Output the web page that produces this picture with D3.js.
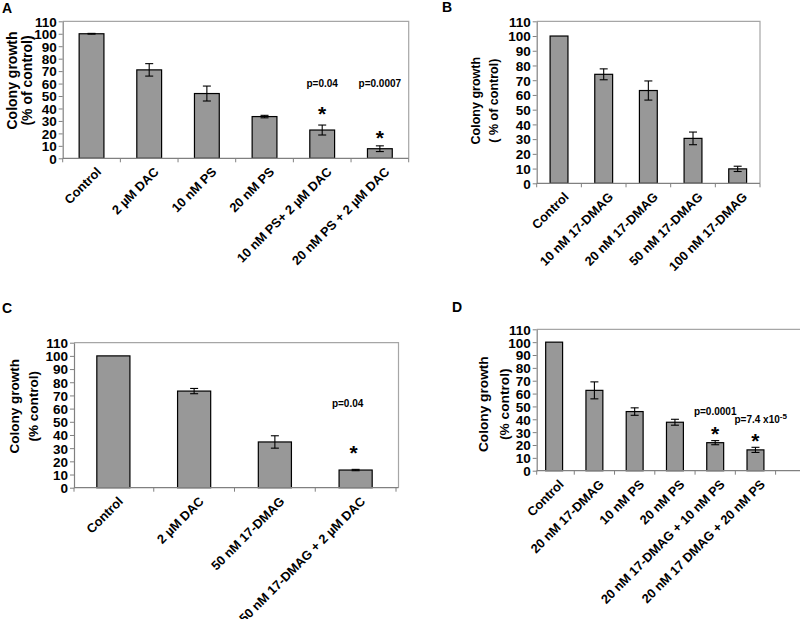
<!DOCTYPE html>
<html><head><meta charset="utf-8">
<script src="https://cdn.jsdelivr.net/npm/d3@7"></script>
<style>
body{margin:0;background:#fff;}
svg text{font-family:"Liberation Sans",Arial,sans-serif;font-weight:bold;fill:#000;}
</style></head>
<body><svg id="c" width="800" height="619"></svg>
<script>
// ---- data ----
const yTicks = [0,10,20,30,40,50,60,70,80,90,100,110];

const catsA = ["Control","2 µM DAC","10 nM PS","20 nM PS","10 nM PS+ 2 µM DAC","20 nM PS + 2 µM DAC"];
const valsA = [100,71,52,33.5,22.7,7.7];
const errA  = [0.3,5,6,1,4,2.3];

const catsB = ["Control","10 nM 17-DMAG","20 nM 17-DMAG","50 nM 17-DMAG","100 nM 17-DMAG"];
const valsB = [100,74,63,30.5,9.8];
const errB  = [0,3.7,6.5,4.3,1.8];

const catsC = ["Control","2 µM DAC","50 nM 17-DMAG","50 nM 17-DMAG + 2 µM DAC"];
const valsC = [100,73.3,34.7,13.4];
const errC  = [0,2,4.7,0.5];

const catsD = ["Control","20 nM 17-DMAG","10 nM PS","20 nM PS","20 nM 17-DMAG + 10 nM PS","20 nM 17 DMAG + 20 nM PS"];
const valsD = [100,62.5,46,37.7,21.8,16.2];
const errD  = [0,6.6,2.9,2.3,1.6,2];

// annotations: [category index, label, level (y units)]
const pA = [[4,"p=0.04",57.3],[5,"p=0.0007",57.3]];
const starA = [[4,38.8],[5,19.5]];
const pC = [[3,"p=0.04",61.2]];
const starC = [[3,29.4]];
const pD = [[4,"p=0.0001",43.3]];
const starD = [[4,31.7],[5,26]];

const svg = d3.select("#c");

function panel(o){
  const g = svg.append("g");
  const x = d3.scaleBand().domain(o.cats).range([o.bx0,o.bx1]).paddingInner(o.pad).paddingOuter(o.pad/2);
  const y = d3.scaleLinear().domain([0,110]).range([o.y0,o.y1]);
  // frame
  g.append("path").attr("d",`M${o.x0},${o.y1}H${o.x1}V${o.y0}`).attr("fill","none").attr("stroke","#a6a6a6").attr("stroke-width",1.2);
  // bars
  g.selectAll("rect.bar").data(o.vals).join("rect")
    .attr("x",(d,i)=>x(o.cats[i])).attr("width",x.bandwidth())
    .attr("y",d=>y(d)).attr("height",d=>y(0)-y(d))
    .attr("fill","#989898").attr("stroke","#000").attr("stroke-width",1.2);
  // error bars
  const eb = g.selectAll("g.eb").data(o.vals).join("g");
  eb.each(function(d,i){
    const e=o.errs[i]; if(!e) return;
    const cx=x(o.cats[i])+x.bandwidth()/2, s=d3.select(this), w=o.cap;
    s.append("line").attr("x1",cx).attr("x2",cx).attr("y1",y(d+e)).attr("y2",y(d-e)).attr("stroke","#000").attr("stroke-width",1.1);
    s.append("line").attr("x1",cx-w).attr("x2",cx+w).attr("y1",y(d+e)).attr("y2",y(d+e)).attr("stroke","#000").attr("stroke-width",1.1);
    s.append("line").attr("x1",cx-w).attr("x2",cx+w).attr("y1",y(d-e)).attr("y2",y(d-e)).attr("stroke","#000").attr("stroke-width",1.1);
  });
  // y axis
  const ya = g.append("g").attr("transform",`translate(${o.x0},0)`)
    .call(d3.axisLeft(y).tickValues(yTicks).tickSize(4).tickPadding(2).tickSizeOuter(0));
  ya.select(".domain").attr("stroke","#808080").attr("stroke-width",1.2);
  ya.selectAll(".tick line").attr("stroke","#808080");
  ya.selectAll(".tick text").style("font-size",o.tfs+"px").attr("dy","0.36em");
  // x axis line + boundary ticks
  g.append("line").attr("x1",o.x0).attr("x2",o.x1).attr("y1",o.y0).attr("y2",o.y0).attr("stroke","#808080").attr("stroke-width",1.2);
  const step = x.step();
  g.selectAll("line.xt").data(o.cats).join("line")
    .attr("x1",d=>x(d)-step*o.pad/2+step).attr("x2",d=>x(d)-step*o.pad/2+step)
    .attr("y1",o.y0).attr("y2",o.y0+4).attr("stroke","#808080");
  g.append("line").attr("x1",o.x0).attr("x2",o.x0).attr("y1",o.y0).attr("y2",o.y0+4).attr("stroke","#808080");
  // x labels
  g.selectAll("text.xl").data(o.cats).join("text")
    .attr("transform",d=>`translate(${x(d)+x.bandwidth()/2+o.lx},${o.y0+o.ly}) rotate(-45)`)
    .attr("text-anchor","end").attr("dy","0.71em").style("font-size",o.xfs+"px").text(d=>d);
  // y title
  o.title.forEach((t,i)=>{
    g.append("text").attr("transform",`translate(${o.tx[i]},${o.ty}) rotate(-90)`)
      .attr("text-anchor","middle").attr("dy","0.35em")
      .style("font-size",o.tts+"px").style("font-weight",o.tw).text(t);
  });
  // panel letter
  g.append("text").attr("x",o.lt[0]).attr("y",o.lt[1]).style("font-size","14px").text(o.letter);
  // annotations
  (o.p||[]).forEach(a=>{
    g.append("text").attr("x",x(o.cats[a[0]])+x.bandwidth()/2+(o.pdx||0)).attr("y",y(a[2]))
      .attr("text-anchor","middle").style("font-size","10px").text(a[1]);
  });
  (o.star||[]).forEach(a=>{
    g.append("text").attr("x",x(o.cats[a[0]])+x.bandwidth()/2+(o.sdx||0)).attr("y",y(a[1])+11)
      .attr("text-anchor","middle").style("font-size","21px").text("*");
  });
  return {g,x,y};
}

panel({cats:catsA,vals:valsA,errs:errA,x0:62.7,x1:408.7,bx0:62.7,bx1:408.7,pad:0.57,y0:158.3,y1:21.3,
  cap:4,tfs:13.5,xfs:12.8,lx:4,ly:8,title:["Colony growth","(% of control)"],tx:[12,27],ty:80.5,tts:14,tw:"bold",
  letter:"A",lt:[2,13],p:pA,star:starA});

panel({cats:catsB,vals:valsB,errs:errB,x0:536.7,x1:760,bx0:536.7,bx1:760,pad:0.6,y0:183.3,y1:21.3,
  cap:4,tfs:13.5,xfs:12.8,lx:4,ly:8,title:["Colony growth","( % of control)"],tx:[476,494],ty:100.7,tts:12.5,tw:"bold",
  letter:"B",lt:[442,12]});

panel({cats:catsC,vals:valsC,errs:errC,x0:74,x1:398.5,bx0:73,bx1:396,pad:0.59,y0:487.7,y1:342.7,
  cap:4,tfs:13.5,xfs:12.8,lx:4,ly:8,title:["Colony growth","(% control)"],tx:[14,33],ty:406.3,tts:13.5,tw:"bold",
  letter:"C",lt:[2,313],p:pC,star:starC,pdx:-8,sdx:-2});

const pd = panel({cats:catsD,vals:valsD,errs:errD,x0:536.7,x1:812,bx0:534,bx1:775.6,pad:0.58,y0:470.7,y1:329.3,
  cap:4,tfs:13.5,xfs:12.8,lx:4,ly:8,title:["Colony growth","(% control)"],tx:[483,504],ty:404.2,tts:13.7,tw:"bold",
  letter:"D",lt:[452,312],p:pD,star:starD});
// p=7.4 x10^-5 label with superscript
{
  const x=pd.x, y=pd.y, c=catsD[5];
  const t = pd.g.append("text").attr("x",x(c)+x.bandwidth()/2-21).attr("y",y(36.9)).style("font-size","10px");
  t.append("tspan").text("p=7.4 x10");
  t.append("tspan").attr("dy","-4").style("font-size","8px").text("-5");
}
</script></body></html>
